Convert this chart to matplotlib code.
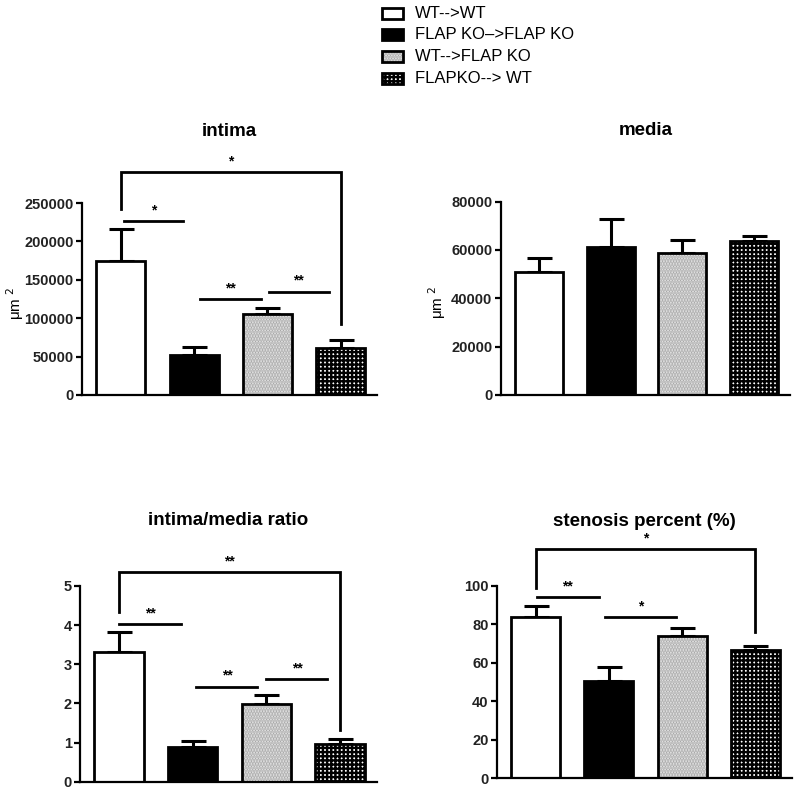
import matplotlib
matplotlib.use("Agg")
import matplotlib.pyplot as plt
from matplotlib.patches import Rectangle
import numpy as np

plt.rcParams['font.family'] = ['Liberation Sans', 'DejaVu Sans']
plt.rcParams['hatch.linewidth'] = 1.7

groups = ["WT-->WT", "FLAP KO\u2013>FLAP KO", "WT-->FLAP KO", "FLAPKO--> WT"]

intima_mean = [174000, 52000, 105500, 61500]
intima_top = [216000, 63000, 113000, 71000]
media_mean = [51000, 61400, 58900, 63900]
media_top = [56800, 72800, 64100, 65900]
ratio_mean = [3.32, 0.89, 1.98, 0.955]
ratio_top = [3.82, 1.05, 2.21, 1.10]
sten_mean = [84.0, 50.8, 74.2, 66.7]
sten_top = [89.8, 57.7, 78.3, 69.0]

# bracket: (x1, x2, y, leg1_end, leg2_end, label)
intima_sig = [(0, 3, 290000, 242000, 92000, "*")]
intima_lines = [(0.05, 0.85, 226500, "*"), (1.08, 1.91, 125000, "**"), (2.02, 2.84, 134500, "**")]
ratio_sig = [(0, 3, 5.35, 4.34, 1.32, "**")]
ratio_lines = [(0.0, 0.84, 4.03, "**"), (1.05, 1.88, 2.43, "**"), (2.0, 2.83, 2.62, "**")]
sten_sig = [(0, 3, 119, 98.8, 76.2, "*")]
sten_lines = [(0.02, 0.86, 94.1, "**"), (0.95, 1.91, 83.7, "*")]

styles = [
    dict(face='white', hatch=None, hc='black'),
    dict(face='black', hatch=None, hc='black'),
    dict(face='#eeeeee', hatch='......', hc='#a8a8a8'),
    dict(face='white', hatch='++++', hc='black'),
]

fig = plt.figure(figsize=(8.0, 7.93), dpi=100)

def panel(rect, means, tops, ylim, yticks, title, ylabel, sig=None, lines=None, title_y=1.33, ylab_x=-0.19):
    ax = fig.add_axes(rect)
    x = np.arange(4)
    w = 0.67
    err = [np.zeros(4), np.array(tops) - np.array(means)]
    for i in range(4):
        st = styles[i]
        ax.bar(x[i], means[i], w, color=st['face'], hatch=st['hatch'], edgecolor=st['hc'], linewidth=0, zorder=2)
        ax.bar(x[i], means[i], w, fill=False, edgecolor='black', linewidth=2, zorder=3)
    ax.errorbar(x, means, yerr=err, fmt='none', ecolor='black', elinewidth=2.2, capsize=9, capthick=2.2, zorder=1)
    ax.set_xlim(-0.53, 3.5)
    ax.set_ylim(*ylim)
    ax.set_yticks(yticks)
    ax.set_yticklabels([str(t) for t in yticks], fontsize=10.5, fontweight='bold', color='#222222')
    ax.set_xticks([])
    for s in ['top', 'right']:
        ax.spines[s].set_visible(False)
    for s in ['left', 'bottom']:
        ax.spines[s].set_linewidth(1.6)
    ax.tick_params(axis='y', length=4, width=1.6, pad=2)
    if ylabel:
        ax.set_ylabel(ylabel, fontsize=11)
        ax.yaxis.set_label_coords(ylab_x, 0.48)
    ax.text(0.5, title_y, title, transform=ax.transAxes, ha='center', va='center', fontsize=13.5, fontweight='bold')
    yr = ylim[1] - ylim[0]
    if sig:
        for (x1, x2, y, l1, l2, lab) in sig:
            ax.plot([x1, x1, x2, x2], [l1, y, y, l2], color='black', lw=2, clip_on=False, solid_joinstyle='miter')
            ax.text((x1 + x2) / 2, y + 0.02 * yr, lab, ha='center', va='bottom', fontsize=10, fontweight='bold', clip_on=False)
    if lines:
        for (x1, x2, y, lab) in lines:
            ax.plot([x1, x2], [y, y], color='black', lw=2, clip_on=False)
            ax.text((x1 + x2) / 2, y + 0.02 * yr, lab, ha='center', va='bottom', fontsize=10, fontweight='bold', clip_on=False)
    return ax

ax1 = panel([0.1025, 0.5019, 0.369, 0.2421], intima_mean, intima_top, (0, 250000),
            [0, 50000, 100000, 150000, 200000, 250000], "intima", r"μm $^{2}$",
            sig=intima_sig, lines=intima_lines, title_y=1.375, ylab_x=-0.19)
ax2 = panel([0.626, 0.5019, 0.3616, 0.2438], media_mean, media_top, (0, 80000),
            [0, 20000, 40000, 60000, 80000], "media", r"μm $^{2}$", title_y=1.366, ylab_x=-0.182)
ax3 = panel([0.1, 0.01425, 0.371, 0.2468], ratio_mean, ratio_top, (0, 5),
            [0, 1, 2, 3, 4, 5], "intima/media ratio", None,
            sig=ratio_sig, lines=ratio_lines, title_y=1.337)
ax4 = panel([0.621, 0.01854, 0.369, 0.2425], sten_mean, sten_top, (0, 100),
            [0, 20, 40, 60, 80, 100], "stenosis percent (%)", None,
            sig=sten_sig, lines=sten_lines, title_y=1.337)

# legend drawn in figure pixels
W, H = 800, 793
row_y = [13.5, 34.5, 56.5, 78.5]
for i in range(4):
    st = styles[i]
    y = row_y[i]
    fig.patches.append(Rectangle((382 / W, 1 - (y + 5.5) / H), 21 / W, 11 / H, transform=fig.transFigure,
                                 facecolor=st['face'], hatch=st['hatch'], edgecolor=st['hc'], linewidth=0))
    fig.patches.append(Rectangle((382 / W, 1 - (y + 5.5) / H), 21 / W, 11 / H, transform=fig.transFigure,
                                 fill=False, edgecolor='black', linewidth=2))
    fig.text(415 / W, 1 - y / H, groups[i], ha='left', va='center', fontsize=12)

fig.savefig("out.png", dpi=100)
